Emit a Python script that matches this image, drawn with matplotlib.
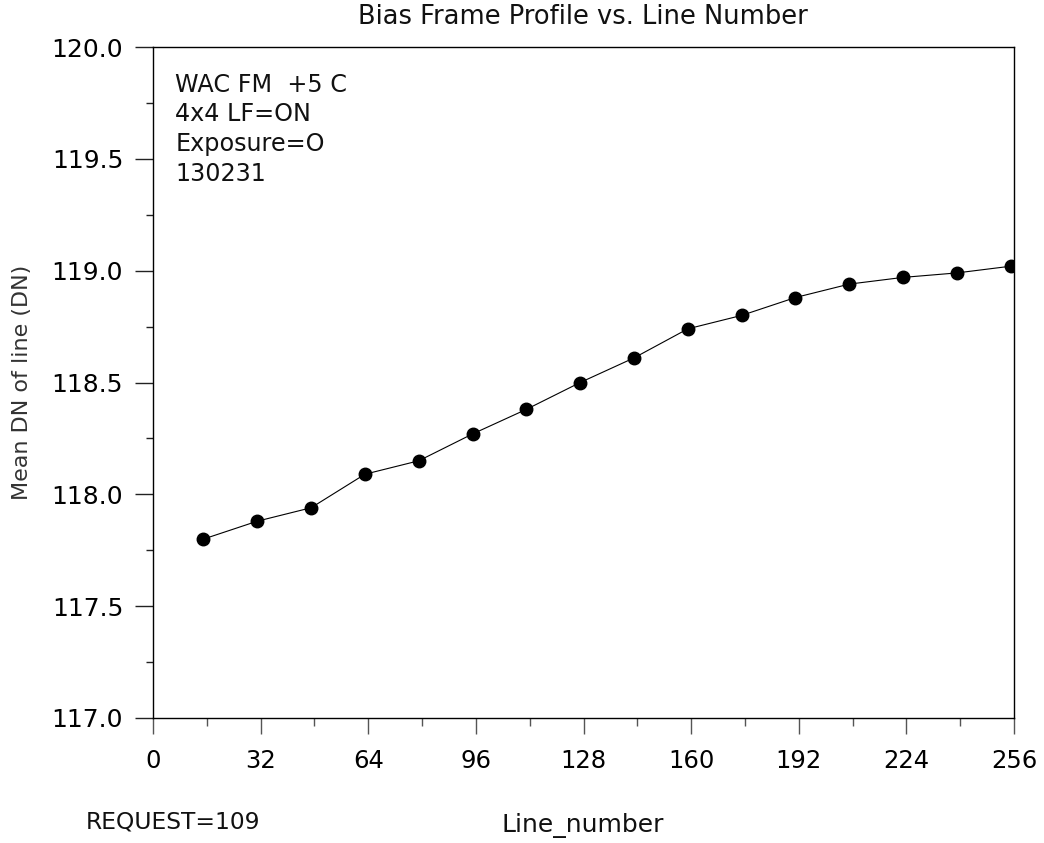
import matplotlib
matplotlib.use('Agg')
import matplotlib.pyplot as plt
from matplotlib.ticker import MultipleLocator

# mean DN per line group
line_number = [15, 31, 47, 63, 79, 95, 111, 127, 143, 159, 175, 191, 207, 223, 239, 255]
mean_dn = [117.80, 117.88, 117.94, 118.09, 118.15, 118.27, 118.38, 118.50,
           118.61, 118.74, 118.80, 118.88, 118.94, 118.97, 118.99, 119.02]

x_ticks = [0, 32, 64, 96, 128, 160, 192, 224, 256]
y_ticks = [117.0, 117.5, 118.0, 118.5, 119.0, 119.5, 120.0]

info_lines = ['WAC FM  +5 C', '4x4 LF=ON', 'Exposure=O', '130231']

plt.rcParams['font.family'] = ['DejaVu Sans']

fig = plt.figure(figsize=(10.44, 8.43), dpi=100)
ax = fig.add_axes([0.1466, 0.1483, 0.8247, 0.7959])

ax.plot(line_number, mean_dn, color='black', lw=0.8, marker='o',
        markersize=9, markerfacecolor='black', markeredgecolor='black')

ax.set_xlim(0, 256)
ax.set_ylim(117.0, 120.0)
ax.set_xticks(x_ticks)
ax.set_xticklabels([str(t) for t in x_ticks])
ax.set_yticks(y_ticks)
ax.set_yticklabels(['{:.1f}'.format(t) for t in y_ticks])
ax.xaxis.set_minor_locator(MultipleLocator(16))
ax.yaxis.set_minor_locator(MultipleLocator(0.25))

for sp in ax.spines.values():
    sp.set_linewidth(1.0)
    sp.set_color('black')

ax.tick_params(axis='x', which='major', direction='out', length=11.5, width=1.0,
               color='#555555', pad=11, labelsize=17.5)
ax.tick_params(axis='x', which='minor', direction='out', length=6, width=1.0,
               color='#555555')
ax.tick_params(axis='y', which='major', direction='out', length=13, width=1.0,
               color='#222222', pad=8.5, labelsize=18)
ax.tick_params(axis='y', which='minor', direction='out', length=5, width=1.0,
               color='#222222')

# annotation block in the upper left
for i, s in enumerate(info_lines):
    ax.text(0.026, 0.944 - i * 0.0443, s, transform=ax.transAxes,
            fontsize=17.2, va='center', ha='left', color='#111111')

fig.text(0.5585, 1 - 17 / 843, 'Bias Frame Profile vs. Line Number',
         ha='center', va='center', fontsize=18.5, color='#111111')
fig.text(0.5585, 1 - 826 / 843, 'Line_number', ha='center', va='center',
         fontsize=18, color='#111111')
fig.text(86 / 1044, 1 - 822 / 843, 'REQUEST=109', ha='left', va='center',
         fontsize=16.8, color='#111111')
fig.text(22 / 1044, 1 - 382 / 843, 'Mean DN of line (DN)', rotation=90,
         ha='center', va='center', fontsize=16, color='#333333')

fig.savefig('out.png', dpi=100)
